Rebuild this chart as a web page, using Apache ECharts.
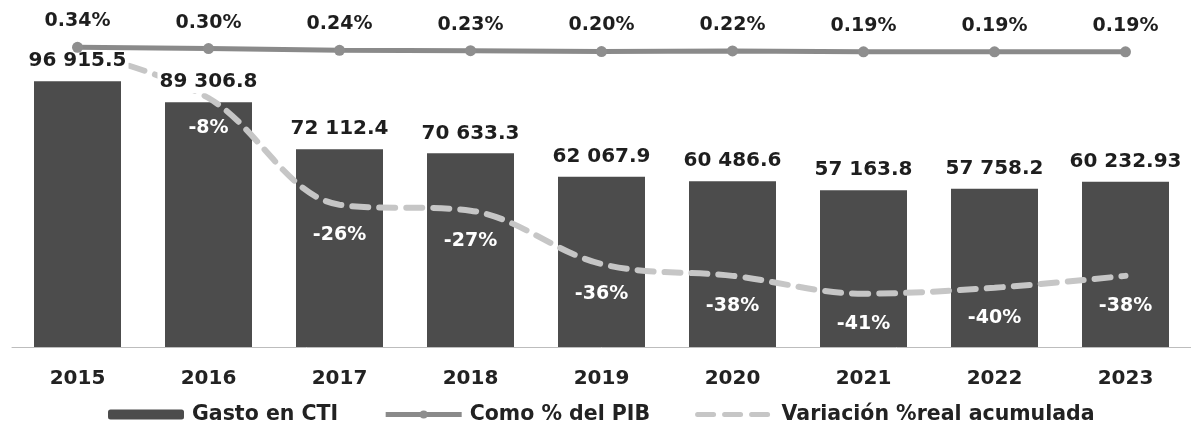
<!DOCTYPE html>
<html>
<head>
<meta charset="utf-8">
<script src="https://cdn.jsdelivr.net/npm/echarts@6/dist/echarts.min.js"></script>
<style>
html,body{margin:0;padding:0;background:#fff;}
#c{width:1191px;height:425px;}
</style>
</head>
<body>
<div id="c"></div>
<script>
const years = ['2015','2016','2017','2018','2019','2020','2021','2022','2023'];
const gastoCTI = [96915.5, 89306.8, 72112.4, 70633.3, 62067.9, 60486.6, 57163.8, 57758.2, 60232.93];
const pctPIB = [0.34, 0.30, 0.24, 0.23, 0.20, 0.22, 0.19, 0.19, 0.19];
const variacion = [0, -8, -26, -27, -36, -38, -41, -40, -38];
const seriesNames = ['Gasto en CTI', 'Como % del PIB', 'Variación %real acumulada'];

const FONT = 'DejaVu Sans';
function fmtNum(v){
  const s = String(v);
  const parts = s.split('.');
  const int = parts[0].replace(/\B(?=(\d{3})+(?!\d))/g, ' ');
  return parts.length > 1 ? int + '.' + parts[1] : int;
}

const chart = echarts.init(document.getElementById('c'), null, {renderer:'canvas'});
chart.setOption({
  backgroundColor: '#ffffff',
  animation: false,
  grid: {left: 12, right: 0, top: 18, bottom: 78, containLabel: false},
  legend: {
    data: [
      {name: seriesNames[0]},
      {name: seriesNames[1], lineStyle: {width: 5}},
      {name: seriesNames[2], lineStyle: {width: 5}}
    ],
    left: 103,
    top: 399,
    itemWidth: 76,
    itemHeight: 10,
    itemGap: 45,
    textStyle: {fontFamily: FONT, fontWeight: 'bold', fontSize: 20.5, color: '#222', padding: [0, 0, 0, 3]}
  },
  xAxis: {
    type: 'category',
    data: years,
    axisLine: {show: true, lineStyle: {color: '#bdbdbd', width: 1}},
    axisTick: {show: false},
    axisLabel: {fontFamily: FONT, fontWeight: 'bold', fontSize: 20, color: '#222', margin: 22}
  },
  yAxis: [
    {type: 'value', min: 0, max: 120000, show: false, splitLine: {show: false}},
    {type: 'value', min: -9.66, max: 1.32, show: false, splitLine: {show: false}},
    {type: 'value', min: -50, max: 5.5, show: false, splitLine: {show: false}}
  ],
  series: [
    {
      name: seriesNames[0],
      type: 'bar',
      data: gastoCTI,
      barWidth: 87,
      itemStyle: {color: '#4c4c4c'},
      z: 2
    },
    {
      name: seriesNames[2],
      type: 'line',
      yAxisIndex: 2,
      data: variacion,
      smooth: 0.35,
      symbol: 'circle',
      symbolSize: 2,
      showSymbol: true,
      itemStyle: {color: 'rgba(198,198,198,0)'},
      lineStyle: {color: '#c6c6c6', width: 6, type: [16, 11], cap: 'round'},
      label: {
        show: true, position: 'bottom', distance: 20,
        fontFamily: FONT, fontWeight: 'bold', fontSize: 19, color: '#ffffff',
        formatter: p => p.value === 0 ? '' : p.value + '%'
      },
      z: 3
    },
    {
      name: 'gastoLabels',
      type: 'scatter',
      data: gastoCTI,
      symbolSize: 2,
      silent: true,
      itemStyle: {color: 'rgba(0,0,0,0)', opacity: 1},
      label: {
        show: true, position: 'top', distance: 8,
        fontFamily: FONT, fontWeight: 'bold', fontSize: 20, color: '#1e1e1e',
        backgroundColor: '#ffffff', padding: [4, 2, 1, 2],
        formatter: p => fmtNum(p.value)
      },
      z: 5
    },
    {
      name: seriesNames[1],
      type: 'line',
      yAxisIndex: 1,
      data: pctPIB,
      symbol: 'circle',
      symbolSize: 11,
      itemStyle: {color: '#8e8e8e'},
      lineStyle: {color: '#8a8a8a', width: 5},
      label: {
        show: true, position: 'top', distance: 11,
        fontFamily: FONT, fontWeight: 'bold', fontSize: 19, color: '#1e1e1e',
        formatter: p => p.value.toFixed(2) + '%'
      },
      z: 6
    }
  ]
});
</script>
</body>
</html>
